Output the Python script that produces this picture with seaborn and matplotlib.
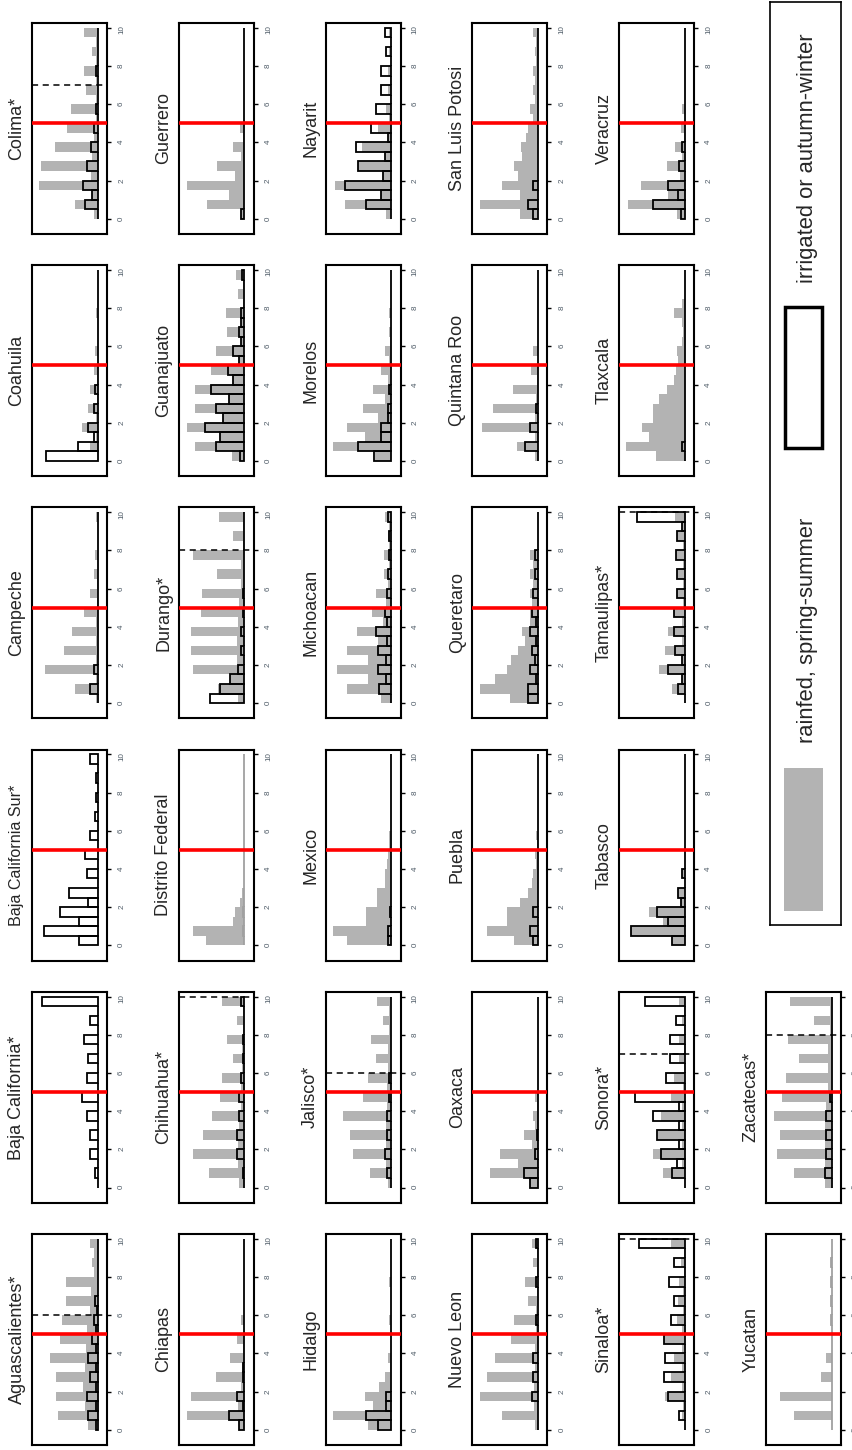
import numpy as np
import pandas as pd
import matplotlib
matplotlib.use("Agg")
import matplotlib.pyplot as plt
from matplotlib.patches import Rectangle
import seaborn as sns

# bar lengths per 0.5-wide bin (0-0.5, 0.5-1, ..., 9.5-10)
# units: 100 = full panel depth from the baseline
aguascalientes_rain = [14, 61, 20, 64, 22, 64, 20, 73, 18, 58, 16, 54, 12, 48, 10, 48, 5, 9, 5, 12]
aguascalientes_irr = [2, 14, 3, 17, 3, 11, 3, 14, 2, 9, 2, 5, 1, 4, 0, 0, 0, 0, 0, 0]
baja_california_rain = [0, 0, 0, 0, 0, 0, 0, 0, 0, 0, 0, 0, 0, 0, 0, 0, 0, 0, 0, 0]
baja_california_irr = [0, 4, 0, 12, 0, 12, 0, 17, 0, 24, 0, 17, 0, 14, 0, 21, 0, 12, 0, 85]
baja_california_sur_rain = [0, 0, 0, 0, 0, 0, 0, 0, 0, 0, 0, 0, 0, 0, 0, 0, 0, 0, 0, 0]
baja_california_sur_irr = [29, 82, 29, 57, 14, 44, 0, 17, 0, 20, 0, 11, 0, 4, 0, 3, 0, 3, 0, 11]
campeche_rain = [3, 34, 3, 80, 3, 52, 2, 39, 2, 21, 1, 12, 1, 6, 0, 4, 0, 0, 0, 3]
campeche_irr = [0, 12, 0, 6, 0, 0, 0, 0, 0, 0, 0, 0, 0, 0, 0, 0, 0, 0, 0, 0]
coahuila_rain = [0, 12, 2, 24, 2, 15, 1, 12, 1, 6, 0, 4, 0, 0, 0, 3, 0, 0, 0, 0]
coahuila_irr = [78, 30, 5, 15, 0, 5, 0, 4, 0, 0, 0, 0, 0, 0, 0, 0, 0, 0, 0, 0]
colima_rain = [5, 34, 9, 90, 10, 87, 8, 65, 5, 47, 3, 40, 3, 18, 3, 21, 2, 9, 2, 21]
colima_irr = [0, 19, 9, 23, 0, 16, 0, 10, 0, 5, 0, 3, 0, 0, 0, 3, 0, 0, 0, 0]
chiapas_rain = [8, 88, 10, 82, 6, 43, 4, 22, 2, 12, 1, 6, 0, 0, 0, 0, 0, 0, 0, 0]
chiapas_irr = [8, 24, 2, 12, 0, 2, 3, 0, 0, 0, 0, 0, 0, 0, 0, 0, 0, 0, 0, 0]
chihuahua_rain = [9, 54, 10, 79, 10, 63, 8, 50, 6, 37, 5, 34, 4, 18, 4, 27, 3, 12, 3, 34]
chihuahua_irr = [0, 2, 0, 12, 0, 12, 0, 9, 0, 9, 0, 6, 0, 3, 0, 3, 0, 0, 0, 6]
distrito_federal_rain = [58, 79, 17, 14, 7, 4, 0, 0, 0, 0, 0, 0, 0, 0, 0, 0, 0, 0, 0, 0]
distrito_federal_irr = [0, 2, 0, 2, 0, 0, 0, 0, 0, 0, 0, 0, 0, 0, 0, 0, 0, 0, 0, 0]
durango_rain = [10, 40, 22, 79, 12, 82, 12, 82, 10, 66, 8, 64, 6, 42, 6, 79, 3, 17, 3, 39]
durango_irr = [53, 38, 22, 10, 0, 6, 0, 6, 0, 3, 0, 3, 0, 0, 0, 0, 0, 0, 0, 0]
guanajuato_rain = [19, 76, 38, 88, 32, 76, 23, 76, 18, 51, 9, 44, 6, 26, 5, 28, 3, 10, 3, 13]
guanajuato_irr = [7, 44, 38, 60, 32, 43, 23, 51, 18, 25, 9, 18, 6, 8, 5, 6, 0, 0, 0, 4]
guerrero_rain = [5, 57, 23, 88, 15, 42, 5, 17, 2, 7, 0, 0, 0, 0, 0, 0, 0, 0, 0, 0]
guerrero_irr = [5, 0, 0, 0, 0, 0, 0, 0, 0, 0, 0, 0, 0, 0, 0, 0, 0, 0, 0, 0]
hidalgo_rain = [36, 88, 28, 40, 18, 10, 2, 5, 0, 0, 0, 3, 0, 0, 0, 3, 0, 0, 0, 0]
hidalgo_irr = [20, 39, 8, 8, 0, 0, 0, 0, 0, 0, 0, 0, 0, 0, 0, 0, 0, 0, 0, 0]
jalisco_rain = [5, 33, 8, 58, 8, 63, 8, 73, 6, 43, 6, 36, 5, 24, 5, 31, 3, 13, 3, 21]
jalisco_irr = [0, 6, 0, 9, 0, 6, 0, 6, 0, 3, 0, 3, 0, 0, 0, 0, 0, 0, 0, 0]
mexico_rain = [68, 88, 39, 39, 21, 21, 10, 10, 6, 5, 3, 3, 0, 0, 0, 0, 0, 0, 0, 0]
mexico_irr = [5, 5, 0, 2, 0, 0, 0, 0, 0, 0, 0, 0, 0, 0, 0, 0, 0, 0, 0, 0]
michoacan_rain = [15, 67, 35, 82, 35, 67, 20, 52, 12, 30, 8, 24, 5, 11, 4, 11, 3, 5, 3, 10]
michoacan_irr = [0, 18, 8, 20, 8, 20, 6, 24, 6, 9, 0, 6, 0, 5, 0, 4, 0, 4, 0, 5]
morelos_rain = [25, 88, 40, 67, 20, 43, 10, 28, 5, 15, 3, 9, 2, 4, 0, 4, 0, 0, 0, 0]
morelos_irr = [26, 50, 15, 16, 5, 5, 0, 3, 0, 0, 0, 0, 0, 0, 0, 0, 0, 0, 0, 0]
nayarit_rain = [8, 70, 15, 86, 13, 51, 10, 45, 5, 20, 3, 8, 2, 5, 2, 5, 0, 3, 0, 3]
nayarit_irr = [0, 38, 15, 70, 13, 51, 10, 53, 5, 31, 0, 23, 0, 15, 0, 15, 0, 8, 0, 10]
nuevo_leon_rain = [5, 55, 6, 88, 6, 78, 5, 66, 4, 41, 3, 37, 3, 16, 2, 20, 2, 7, 2, 10]
nuevo_leon_irr = [0, 0, 0, 10, 0, 7, 0, 7, 0, 0, 0, 3, 0, 0, 0, 3, 0, 0, 0, 3]
oaxaca_rain = [13, 73, 31, 58, 10, 22, 4, 8, 2, 5, 0, 0, 0, 0, 0, 0, 0, 0, 0, 0]
oaxaca_irr = [13, 22, 0, 5, 0, 2, 0, 0, 0, 0, 0, 0, 0, 0, 0, 0, 0, 0, 0, 0]
puebla_rain = [36, 78, 48, 48, 28, 16, 10, 8, 3, 5, 2, 3, 0, 0, 0, 0, 0, 0, 0, 0]
puebla_irr = [7, 13, 0, 8, 0, 0, 0, 0, 0, 0, 0, 0, 0, 0, 0, 0, 0, 0, 0, 0]
queretaro_rain = [43, 88, 66, 47, 41, 31, 20, 25, 12, 13, 10, 13, 8, 12, 8, 13, 0, 0, 0, 0]
queretaro_irr = [16, 16, 3, 12, 5, 10, 3, 13, 3, 10, 0, 8, 0, 5, 0, 5, 0, 0, 0, 0]
quintana_roo_rain = [5, 32, 5, 85, 5, 68, 3, 38, 2, 11, 0, 8, 0, 0, 0, 0, 0, 0, 0, 0]
quintana_roo_irr = [0, 20, 0, 13, 0, 3, 0, 0, 0, 0, 0, 0, 0, 0, 0, 0, 0, 0, 0, 0]
san_luis_potosi_rain = [28, 88, 28, 55, 31, 37, 25, 26, 18, 16, 8, 13, 5, 7, 4, 7, 3, 5, 3, 7]
san_luis_potosi_irr = [7, 15, 0, 7, 0, 0, 0, 0, 0, 0, 0, 0, 0, 0, 0, 0, 0, 0, 0, 0]
sinaloa_rain = [0, 5, 3, 31, 5, 21, 5, 16, 5, 32, 4, 12, 3, 11, 3, 9, 2, 6, 2, 21]
sinaloa_irr = [0, 9, 0, 26, 0, 32, 0, 31, 0, 32, 0, 21, 0, 17, 0, 24, 0, 17, 0, 70]
sonora_rain = [0, 34, 5, 49, 5, 41, 5, 37, 4, 21, 3, 16, 2, 9, 2, 9, 1, 4, 1, 9]
sonora_irr = [0, 20, 12, 36, 9, 42, 9, 48, 9, 76, 0, 29, 0, 22, 0, 22, 0, 14, 0, 61]
tabasco_rain = [19, 82, 34, 54, 6, 11, 0, 4, 0, 0, 0, 0, 0, 0, 0, 0, 0, 0, 0, 0]
tabasco_irr = [19, 82, 26, 42, 6, 11, 0, 4, 0, 0, 0, 0, 0, 0, 0, 0, 0, 0, 0, 0]
tamaulipas_rain = [0, 19, 4, 39, 4, 30, 4, 26, 4, 16, 3, 12, 3, 12, 3, 14, 3, 12, 4, 15]
tamaulipas_irr = [0, 11, 4, 26, 4, 15, 0, 16, 0, 17, 0, 12, 0, 12, 0, 14, 0, 12, 4, 73]
tlaxcala_rain = [44, 90, 55, 65, 49, 49, 39, 27, 16, 13, 10, 12, 5, 3, 5, 16, 4, 0, 0, 0]
tlaxcala_irr = [0, 4, 0, 0, 0, 0, 0, 0, 0, 0, 0, 0, 0, 0, 0, 0, 0, 0, 0, 0]
veracruz_rain = [12, 87, 26, 67, 8, 27, 4, 15, 2, 6, 0, 4, 0, 0, 0, 0, 0, 0, 0, 0]
veracruz_irr = [6, 48, 11, 26, 0, 9, 0, 4, 0, 0, 0, 0, 0, 0, 0, 0, 0, 0, 0, 0]
yucatan_rain = [0, 57, 0, 79, 0, 16, 0, 8, 0, 0, 0, 0, 0, 0, 0, 0, 0, 0, 0, 0]
yucatan_irr = [0, 0, 0, 0, 0, 0, 0, 0, 0, 0, 0, 1, 0, 1, 0, 1, 0, 1, 0, 0]
zacatecas_rain = [10, 57, 10, 84, 10, 78, 10, 88, 8, 75, 6, 69, 5, 50, 5, 66, 3, 27, 3, 63]
zacatecas_irr = [0, 10, 0, 9, 0, 8, 0, 8, 0, 3, 0, 0, 0, 0, 0, 0, 0, 0, 0, 0]

states = ["Aguascalientes*", "Baja California*", "Baja California Sur*", "Campeche",
          "Coahuila", "Colima*", "Chiapas", "Chihuahua*", "Distrito Federal",
          "Durango*", "Guanajuato", "Guerrero", "Hidalgo", "Jalisco*", "Mexico",
          "Michoacan", "Morelos", "Nayarit", "Nuevo Leon", "Oaxaca", "Puebla",
          "Queretaro", "Quintana Roo", "San Luis Potosi", "Sinaloa*", "Sonora*",
          "Tabasco", "Tamaulipas*", "Tlaxcala", "Veracruz", "Yucatan", "Zacatecas*"]
rain = [aguascalientes_rain, baja_california_rain, baja_california_sur_rain, campeche_rain,
        coahuila_rain, colima_rain, chiapas_rain, chihuahua_rain, distrito_federal_rain,
        durango_rain, guanajuato_rain, guerrero_rain, hidalgo_rain, jalisco_rain, mexico_rain,
        michoacan_rain, morelos_rain, nayarit_rain, nuevo_leon_rain, oaxaca_rain, puebla_rain,
        queretaro_rain, quintana_roo_rain, san_luis_potosi_rain, sinaloa_rain, sonora_rain,
        tabasco_rain, tamaulipas_rain, tlaxcala_rain, veracruz_rain, yucatan_rain, zacatecas_rain]
irr = [aguascalientes_irr, baja_california_irr, baja_california_sur_irr, campeche_irr,
       coahuila_irr, colima_irr, chiapas_irr, chihuahua_irr, distrito_federal_irr,
       durango_irr, guanajuato_irr, guerrero_irr, hidalgo_irr, jalisco_irr, mexico_irr,
       michoacan_irr, morelos_irr, nayarit_irr, nuevo_leon_irr, oaxaca_irr, puebla_irr,
       queretaro_irr, quintana_roo_irr, san_luis_potosi_irr, sinaloa_irr, sonora_irr,
       tabasco_irr, tamaulipas_irr, tlaxcala_irr, veracruz_irr, yucatan_irr, zacatecas_irr]
# dashed threshold for starred states (None = not shown)
thresholds = [6, None, None, None, None, 7, None, 10, None, 8, None, None, None, 6, None,
              None, None, None, None, None, None, None, None, None, 10, 7, None, 10,
              None, None, None, 8]
faint = ["Distrito Federal", "Yucatan"]
yticks = [0, 2, 4, 6, 8, 10]

mids = np.arange(0.25, 10, 0.5)

sns.set_style("white")
plt.rcParams["font.family"] = ["Liberation Sans", "DejaVu Sans"]

W, H = 853, 1450
fig = plt.figure(figsize=(W / 100, H / 100), dpi=100)

for n, name in enumerate(states):
    r, c = divmod(n, 6)
    x0 = 32 + 146.8 * r
    top = 1234 - 242.2 * c
    ax = fig.add_axes([x0 / W, 1 - (top + 211) / H, 75 / W, 211 / H])

    df = pd.DataFrame({"yield": mids, "rain": rain[n], "irr": irr[n]})
    sns.histplot(data=df, y="yield", weights="rain", bins=20, binrange=(0, 10),
                 color="#b3b3b3", alpha=1, edgecolor="none", linewidth=0, ax=ax)
    sns.histplot(data=df, y="yield", weights="irr", bins=20, binrange=(0, 10), fill=False,
                 color="#a0a0a0" if name in faint else "black", linewidth=1.3, ax=ax)

    ax.axhline(5, color="red", lw=2.6, zorder=5)
    if thresholds[n] is not None:
        ax.axhline(thresholds[n], color="black", lw=1.1, ls=(0, (4, 3)), zorder=5)

    ax.set_xlim(100, -14.2)
    ax.set_ylim(-0.8, 10.25)
    ax.set_xlabel("")
    ax.set_ylabel("")
    ax.set_xticks([])
    ax.yaxis.tick_right()
    ax.set_yticks(yticks)
    ax.tick_params(axis="y", right=True, left=False, direction="out", length=3,
                   width=1, labelsize=5.8, labelrotation=90, pad=5,
                   labelcolor="#4d5a66", color="black")
    for sp in ax.spines.values():
        sp.set_visible(True)
        sp.set_color("black")
        sp.set_linewidth(1.5)

    ax.text(-0.2, 0.5, name, rotation=90, transform=ax.transAxes, ha="center",
            va="center", fontsize=11.6 if len(name) > 17 else 13)

# legend panel
lax = fig.add_axes([770 / W, 1 - 925 / H, 71 / W, 923 / H])
lax.set_xticks([])
lax.set_yticks([])
for sp in lax.spines.values():
    sp.set_visible(True)
    sp.set_color("black")
    sp.set_linewidth(1.2)
lax.add_patch(Rectangle((0.2, 0.015), 0.54, 0.155, transform=lax.transAxes,
                        facecolor="#b3b3b3", edgecolor="none"))
lax.add_patch(Rectangle((0.21, 0.517), 0.52, 0.153, transform=lax.transAxes,
                        facecolor="white", edgecolor="black", lw=2.5))
lax.text(0.535, 0.319, "rainfed, spring-summer", rotation=90, transform=lax.transAxes,
         ha="center", va="center", fontsize=15.8)
lax.text(0.535, 0.831, "irrigated or autumn-winter", rotation=90, transform=lax.transAxes,
         ha="center", va="center", fontsize=15.8)

fig.savefig("out.png", dpi=100)
